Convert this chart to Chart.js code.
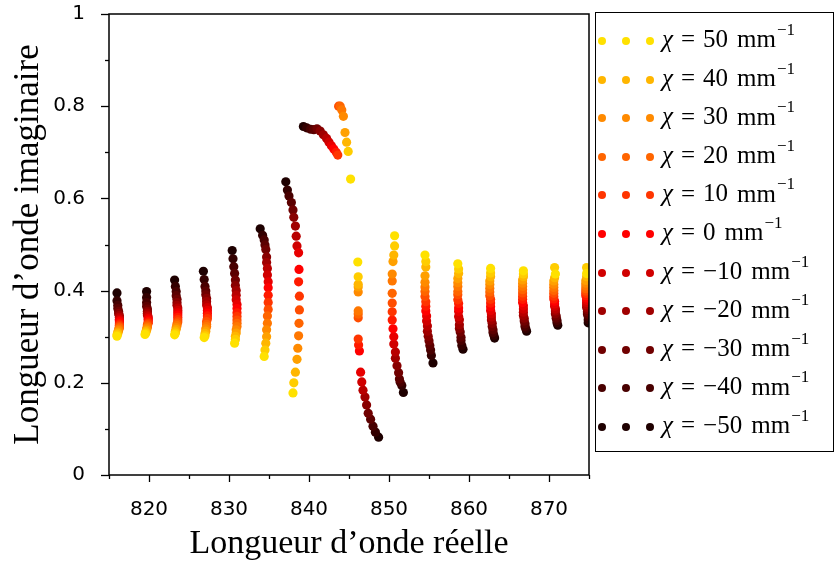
<!DOCTYPE html>
<html>
<head>
<meta charset="utf-8">
<script src="https://cdn.jsdelivr.net/npm/chart.js@4.4.1/dist/chart.umd.min.js"></script>
<style>
  body { margin: 0; background: #fff; }
  #wrap { position: relative; width: 837px; height: 567px; }
  #legende {
    position: absolute; left: 595px; top: 12px; width: 239px; height: 440px;
    border: 1.5px solid #000; box-sizing: border-box;
    font-family: "Liberation Serif", serif; font-size: 25px; color: #000;
  }
  .ligne { position: absolute; left: 0; height: 20px; white-space: nowrap; }
  .pt { position: absolute; width: 8px; height: 8px; border-radius: 50%; top: 6px; }
  .txt { position: absolute; left: 66px; top: -8px; }
  .txt .eq { margin: 0 8px; }
  .txt .u { margin-left: 9px; }
  .txt sup { font-size: 17px; position: relative; top: -3px; margin-left: 1px; }
</style>
</head>
<body>
<div id="wrap">
  <canvas id="chartModes" width="837" height="567"></canvas>
  <div id="legende"></div>
</div>
<script>
// valeurs de chi (mm^-1), de 50 a -50
const chi = [50, 45, 40, 35, 30, 25, 20, 15, 10, 5, 0, -5, -10, -15, -20, -25, -30, -35, -40, -45, -50]
const chiLegende = [50, 40, 30, 20, 10, 0, -10, -20, -30, -40, -50]
const couleurs = ['#ffe100','#ffcd00','#ffb600','#ffa000','#ff8a00','#ff7700','#ff6500','#ff4d00','#ff3500','#ff1a00','#ff0000',
                  '#e80000','#d00000','#b80000','#a00000','#880000','#700000','#5c0000','#480000','#330000','#1e0000']

// chaque mode : longueur d'onde reelle (x) et imaginaire (y), un point par chi
const m816x = [816.0,816.0,816.1,816.1,816.2,816.2,816.3,816.3,816.3,816.3,816.3,816.3,816.3,816.3,816.3,816.2,816.2,816.1,816.1,816.0,816.0]
const m816y = [0.301,0.304,0.307,0.310,0.313,0.316,0.319,0.322,0.325,0.328,0.332,0.335,0.338,0.342,0.346,0.350,0.355,0.361,0.368,0.378,0.395]
const m820x = [819.5,819.6,819.6,819.7,819.7,819.8,819.8,819.8,819.9,819.9,819.9,819.9,819.9,819.8,819.8,819.8,819.8,819.7,819.7,819.7,819.7]
const m820y = [0.305,0.308,0.311,0.314,0.317,0.320,0.323,0.326,0.329,0.332,0.336,0.339,0.343,0.347,0.351,0.355,0.360,0.366,0.374,0.385,0.398]
const m823x = [823.2,823.3,823.3,823.4,823.4,823.5,823.5,823.6,823.6,823.6,823.6,823.6,823.6,823.6,823.5,823.5,823.5,823.4,823.4,823.3,823.2]
const m823y = [0.304,0.308,0.312,0.316,0.320,0.324,0.328,0.332,0.337,0.342,0.347,0.352,0.357,0.362,0.368,0.374,0.381,0.389,0.398,0.409,0.423]
const m827x = [826.9,827.0,827.0,827.1,827.1,827.2,827.2,827.2,827.3,827.3,827.3,827.3,827.3,827.2,827.2,827.2,827.1,827.1,827.0,826.9,826.8]
const m827y = [0.298,0.302,0.307,0.312,0.317,0.322,0.327,0.333,0.339,0.345,0.351,0.357,0.363,0.369,0.376,0.383,0.391,0.399,0.409,0.424,0.442]
const m831x = [830.7,830.8,830.8,830.9,830.9,831.0,831.0,831.0,831.0,831.0,831.0,831.0,830.9,830.9,830.9,830.8,830.8,830.7,830.6,830.5,830.4]
const m831y = [0.286,0.294,0.301,0.308,0.315,0.322,0.329,0.336,0.344,0.352,0.361,0.370,0.380,0.390,0.400,0.411,0.423,0.437,0.452,0.469,0.487]
const m834x = [834.4,834.5,834.6,834.7,834.7,834.8,834.8,834.9,834.9,834.9,834.9,834.9,834.8,834.8,834.7,834.7,834.6,834.5,834.4,834.2,833.9]
const m834y = [0.257,0.271,0.286,0.300,0.315,0.329,0.345,0.359,0.374,0.390,0.406,0.419,0.434,0.448,0.461,0.473,0.489,0.499,0.510,0.520,0.534]
const m838x = [838.0,838.1,838.3,838.5,838.6,838.7,838.75,838.8,838.8,838.7,838.75,838.7,838.5,838.4,838.3,838.1,838.0,837.8,837.5,837.3,837.1]
const m838y = [0.178,0.200,0.223,0.251,0.275,0.302,0.329,0.358,0.388,0.419,0.446,0.482,0.497,0.518,0.540,0.559,0.575,0.591,0.605,0.618,0.636]
const m843x = [845.2,844.9,844.7,844.5,844.3,844.1,843.9,843.7,843.6,843.4,843.1,842.8,842.5,842.2,841.8,841.4,841.0,840.6,840.2,839.7,839.3]
const m843y = [0.642,0.702,0.722,0.743,0.778,0.792,0.800,0.800,0.694,0.700,0.707,0.714,0.722,0.730,0.738,0.746,0.751,0.749,0.750,0.753,0.756]
const m847x = [846.1,846.15,846.15,846.15,846.15,846.15,846.15,846.15,846.15,846.2,846.3,846.45,846.6,846.75,847.0,847.2,847.4,847.7,848.0,848.3,848.7]
const m847y = [0.462,0.430,0.414,0.408,0.397,0.356,0.349,0.341,0.295,0.282,0.269,0.223,0.202,0.184,0.169,0.152,0.134,0.121,0.106,0.093,0.082]
const m851x = [850.7,850.7,850.6,850.5,850.4,850.4,850.4,850.4,850.4,850.4,850.5,850.6,850.6,850.8,850.8,851.0,851.2,851.3,851.4,851.6,851.8]
const m851y = [0.519,0.497,0.477,0.463,0.436,0.421,0.394,0.373,0.354,0.336,0.317,0.300,0.284,0.267,0.253,0.237,0.222,0.208,0.201,0.194,0.179]
const m855x = [854.5,854.6,854.6,854.5,854.5,854.5,854.5,854.5,854.6,854.6,854.6,854.7,854.7,854.8,854.8,854.9,855.0,855.1,855.2,855.3,855.5]
const m855y = [0.477,0.463,0.451,0.432,0.418,0.408,0.398,0.387,0.376,0.366,0.356,0.345,0.334,0.323,0.312,0.301,0.291,0.281,0.271,0.259,0.243]
const m859x = [858.6,858.7,858.7,858.6,858.6,858.6,858.6,858.6,858.6,858.7,858.7,858.7,858.7,858.8,858.8,858.8,858.9,859.0,859.0,859.1,859.25]
const m859y = [0.458,0.447,0.437,0.426,0.417,0.409,0.398,0.391,0.380,0.372,0.362,0.355,0.344,0.337,0.326,0.318,0.310,0.299,0.292,0.281,0.273]
const m863x = [862.7,862.7,862.7,862.6,862.6,862.6,862.6,862.6,862.7,862.7,862.7,862.7,862.8,862.8,862.8,862.9,862.9,863.0,863.0,863.1,863.2]
const m863y = [0.448,0.438,0.430,0.421,0.413,0.405,0.397,0.389,0.381,0.373,0.365,0.357,0.350,0.343,0.336,0.329,0.322,0.315,0.309,0.303,0.297]
const m867x = [866.8,866.8,866.8,866.7,866.7,866.7,866.7,866.7,866.7,866.7,866.7,866.8,866.8,866.8,866.8,866.9,866.9,867.0,867.0,867.1,867.2]
const m867y = [0.443,0.436,0.430,0.423,0.416,0.409,0.402,0.395,0.388,0.381,0.374,0.367,0.360,0.353,0.346,0.340,0.334,0.328,0.322,0.317,0.312]
const m871x = [870.8,870.7,870.7,870.6,870.6,870.6,870.6,870.6,870.6,870.6,870.7,870.7,870.7,870.8,870.8,870.8,870.9,870.9,871.0,871.0,871.1]
const m871y = [0.436,0.450,0.428,0.421,0.414,0.407,0.400,0.394,0.388,0.382,0.377,0.371,0.366,0.360,0.356,0.350,0.345,0.340,0.335,0.330,0.325]
const m875x = [874.7,874.7,874.7,874.6,874.6,874.6,874.6,874.6,874.6,874.6,874.7,874.7,874.7,874.7,874.7,874.8,874.8,874.8,874.9,874.9,874.9]
const m875y = [0.437,0.450,0.430,0.422,0.416,0.410,0.404,0.399,0.394,0.389,0.384,0.379,0.374,0.369,0.364,0.359,0.354,0.349,0.344,0.337,0.330]

const modesX = [m816x, m820x, m823x, m827x, m831x, m834x, m838x, m843x, m847x, m851x, m855x, m859x, m863x, m867x, m871x, m875x]
const modesY = [m816y, m820y, m823y, m827y, m831y, m834y, m838y, m843y, m847y, m851y, m855y, m859y, m863y, m867y, m871y, m875y]

const datasets = chi.map((c, i) => ({
    label: 'χ = ' + c + ' mm⁻¹',
    data: modesX.map((mx, k) => ({ x: mx[i], y: modesY[k][i] })),
    backgroundColor: couleurs[i],
    borderWidth: 0,
    pointRadius: 4.6,
    clip: 0
}))

// ticks majeurs / mineurs + cadre, a la maniere de matplotlib
const cadre = {
    id: 'cadre',
    afterDraw(chart) {
        const ctx = chart.ctx
        const a = chart.chartArea
        const sx = chart.scales.x, sy = chart.scales.y
        ctx.save()
        ctx.strokeStyle = '#000'
        ctx.lineWidth = 1.3
        for (let v = 815; v <= 875; v += 5) {
            const px = Math.round(sx.getPixelForValue(v)) + 0.5
            const l = (v % 10 === 0) ? 7 : 4
            ctx.beginPath(); ctx.moveTo(px, a.bottom); ctx.lineTo(px, a.bottom + l); ctx.stroke()
        }
        for (let k = 0; k <= 10; k++) {
            const py = Math.round(sy.getPixelForValue(k / 10)) + 0.5
            const l = (k % 2 === 0) ? 8 : 4
            ctx.beginPath(); ctx.moveTo(a.left, py); ctx.lineTo(a.left - l, py); ctx.stroke()
        }
        ctx.lineWidth = 1.5
        ctx.strokeRect(a.left, a.top, a.right - a.left, a.bottom - a.top)
        ctx.restore()
    }
}

new Chart(document.getElementById('chartModes'), {
    type: 'scatter',
    data: { datasets: datasets },
    options: {
        responsive: false,
        animation: false,
        layout: { padding: { top: 14, right: 248, left: 0, bottom: 0 } },
        plugins: { legend: { display: false }, tooltip: { enabled: false } },
        scales: {
            x: {
                type: 'linear', min: 815, max: 875,
                grid: { display: false },
                border: { display: false },
                ticks: {
                    stepSize: 5, autoSkip: false, maxRotation: 0, padding: 15, color: '#000',
                    font: { family: 'DejaVu Sans', size: 20 },
                    callback: v => (v % 10 === 0 ? String(v) : '')
                },
                title: {
                    display: true, text: 'Longueur d’onde réelle', color: '#000',
                    font: { family: 'Liberation Serif', size: 34 }, padding: { top: 0, bottom: 3 }
                },
                afterFit: s => { s.height = 92; s.paddingLeft = 0; s.paddingRight = 0 }
            },
            y: {
                type: 'linear', min: 0, max: 1,
                grid: { display: false },
                border: { display: false },
                ticks: {
                    stepSize: 0.1, autoSkip: false, padding: 16, color: '#000',
                    font: { family: 'DejaVu Sans', size: 20 },
                    callback: v => {
                        const k = Math.round(v * 10)
                        return k % 2 === 0 ? String(k / 10) : ''
                    }
                },
                title: {
                    display: true, text: 'Longueur d’onde imaginaire', color: '#000',
                    font: { family: 'Liberation Serif', size: 35 }, padding: { top: 8, bottom: 0 }
                },
                afterFit: s => { s.width = 109; s.paddingTop = 0; s.paddingBottom = 0 }
            }
        }
    },
    plugins: [cadre]
})

// legende a trois points par entree
const legende = document.getElementById('legende')
chiLegende.forEach((c, n) => {
    const i = chi.indexOf(c)
    const ligne = document.createElement('div')
    ligne.className = 'ligne'
    ligne.style.top = (18 + n * 38.6) + 'px'
    let html = ''
    ;[2, 26, 50].forEach(px => {
        html += '<span class="pt" style="left:' + px + 'px;background:' + couleurs[i] + '"></span>'
    })
    const val = c < 0 ? '−' + Math.abs(c) : String(c)
    html += '<span class="txt"><i>χ</i><span class="eq">=</span>' + val + '<span class="u">mm</span><sup>−1</sup></span>'
    ligne.innerHTML = html
    legende.appendChild(ligne)
})
</script>
</body>
</html>
